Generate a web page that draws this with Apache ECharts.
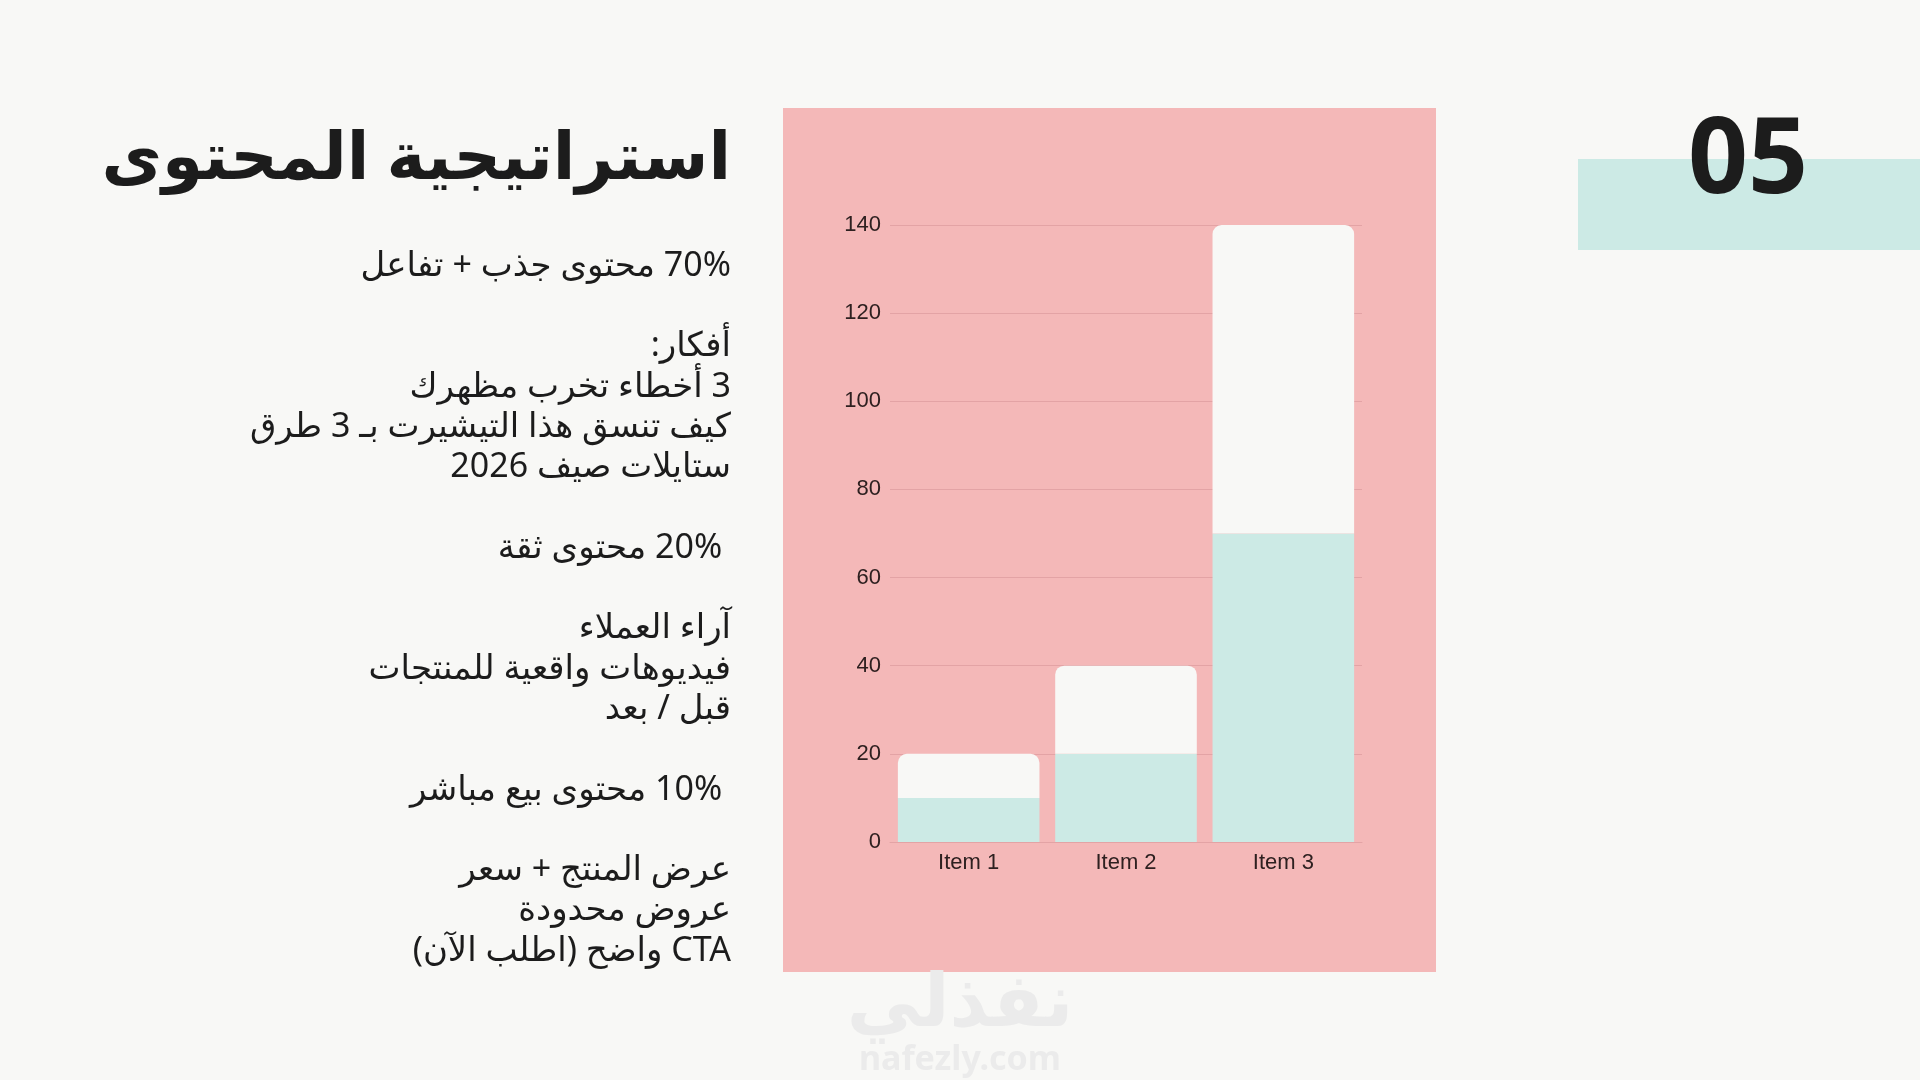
<!DOCTYPE html>
<html>
<head>
<meta charset="utf-8">
<script src="https://cdn.jsdelivr.net/npm/echarts@6/dist/echarts.min.js"></script>
<style>
html,body{margin:0;padding:0;background:#f8f8f6;}
#c{width:1920px;height:1080px;}
</style>
</head>
<body>
<div id="c" dir="rtl"></div>
<script>
const categories = ['Item 1', 'Item 2', 'Item 3'];
const baseValues = [10, 20, 70];
const topValues = [10, 20, 70];
const yMin = 0, yMax = 140, yInterval = 20;

const titleText = 'استراتيجية المحتوى';
const slideNumber = '05';
const bodyLines = [
  '70% محتوى جذب + تفاعل',
  '',
  'أفكار:',
  '3 أخطاء تخرب مظهرك',
  'كيف تنسق هذا التيشيرت بـ 3 طرق',
  'ستايلات صيف 2026',
  '',
  ' 20% محتوى ثقة',
  '',
  'آراء العملاء',
  'فيديوهات واقعية للمنتجات',
  'قبل / بعد',
  '',
  ' 10% محتوى بيع مباشر',
  '',
  'عرض المنتج + سعر',
  'عروض محدودة',
  'CTA واضح (اطلب الآن)'
];
const watermarkAr = 'نفذلي';
const watermarkEn = 'nafezly.com';

const bodyFont = "'Noto Sans', 'DejaVu Sans', sans-serif";
const graphics = [
  {type:'rect', z:-10, shape:{x:783, y:108, width:653, height:864}, style:{fill:'#f4b8b8'}},
  {type:'rect', z:-10, shape:{x:1578, y:159, width:342, height:91}, style:{fill:'#cceae5'}},
  {type:'text', z:5, x:1748, y:163, style:{text:slideNumber, fill:'#1c1c1c', font:"bold 105px 'Open Sans', 'Noto Sans', sans-serif", textAlign:'center', textVerticalAlign:'middle'}},
  {type:'text', z:5, x:731, y:160, style:{text:titleText, fill:'#1c1c1c', font:"bold 66px " + bodyFont, textAlign:'right', textVerticalAlign:'middle'}},
  {type:'text', z:-5, x:960, y:1005, style:{text:watermarkAr, fill:'#ebebeb', font:"bold 74px " + bodyFont, textAlign:'center', textVerticalAlign:'middle'}},
  {type:'text', z:-5, x:960, y:1060, style:{text:watermarkEn, fill:'#ebebeb', font:"bold 34px " + bodyFont, textAlign:'center', textVerticalAlign:'middle'}}
];
bodyLines.forEach(function(line, i){
  if (!line) return;
  graphics.push({type:'text', z:5, x:731, y:266 + i*40.3, style:{text:line, fill:'#1c1c1c', font:"34px " + bodyFont, textAlign:'right', textVerticalAlign:'middle'}});
});

const chart = echarts.init(document.getElementById('c'), null, {renderer:'canvas'});
chart.setOption({
  backgroundColor:'#f8f8f6',
  animation:false,
  graphic: graphics,
  grid:{left:890, right:558, top:225, bottom:238, containLabel:false},
  xAxis:{
    type:'category', data:categories,
    axisLine:{show:true, lineStyle:{color:'#e3a3a5', width:1}},
    axisTick:{show:false},
    axisLabel:{color:'#2e2020', fontSize:22, fontFamily:"'Liberation Sans', Arial, sans-serif", margin:10}
  },
  yAxis:{
    type:'value', min:yMin, max:yMax, interval:yInterval,
    axisLine:{show:false}, axisTick:{show:false},
    splitLine:{lineStyle:{color:'#e3a3a5', width:1}},
    axisLabel:{color:'#2e2020', fontSize:22, fontFamily:"'Liberation Sans', Arial, sans-serif", margin:9}
  },
  series:[
    {type:'bar', stack:'total', data:baseValues, barWidth:'90%', itemStyle:{color:'#cceae5'}},
    {type:'bar', stack:'total', data:topValues, barWidth:'90%', itemStyle:{color:'#f8f8f6', borderRadius:[9,9,0,0]}}
  ]
});
</script>
</body>
</html>
